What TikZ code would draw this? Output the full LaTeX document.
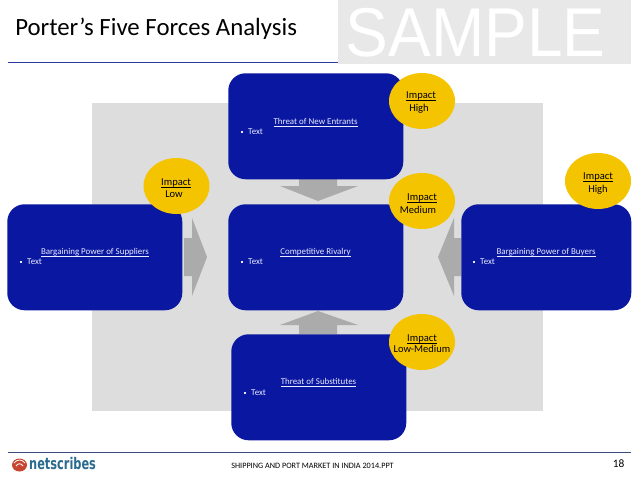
\documentclass[tikz,border=0pt]{standalone}
\usepackage{fontspec}
\setmainfont{Carlito}
\usetikzlibrary{shapes.geometric}
\definecolor{boxblue}{HTML}{0A17A0}
\definecolor{impact}{HTML}{F5C400}
\definecolor{panel}{HTML}{DDDDDD}
\definecolor{arrowgray}{HTML}{ABABAB}
\definecolor{ruleblue}{HTML}{2A3A9E}
\definecolor{footrule}{HTML}{3C4A80}
\definecolor{samplebg}{HTML}{E8E8E8}
\definecolor{logored}{HTML}{C8452F}
\definecolor{logoblue}{HTML}{2A6A8E}
\definecolor{boxtext}{HTML}{E8EAFF}
\newcommand{\ul}[1]{\underline{\smash{#1}}}
\newcommand{\sqb}{\rule[1.2pt]{1.6pt}{1.6pt}\hspace{3.6pt}}
\tikzset{
 x=0.75pt,y=-0.75pt,
 force/.style={fill=boxblue,rounded corners=13pt,minimum width=131.25pt,minimum height=79.5pt,inner sep=0pt,anchor=north west},
 impactnode/.style={ellipse,fill=impact,minimum width=49.5pt,minimum height=42pt,inner sep=0pt},
 impacttext/.style={inner sep=0pt,align=center,text=black,font=\fontsize{7.9}{9.7}\selectfont},
 heading/.style={text=boxtext,font=\fontsize{6.7}{8}\selectfont,inner sep=0pt},
 bullet/.style={text=boxtext,font=\fontsize{6.7}{8}\selectfont,inner sep=0pt,anchor=west},
 block/.style={fill=arrowgray,draw=none}
}
\begin{document}
\begin{tikzpicture}
\useasboundingbox (0,0) rectangle (638,479);
\fill[white] (0,0) rectangle (638,479);
% rules
\coordinate (ruleL) at (8,62.5);
\coordinate (ruleR) at (338,62.5);
\draw[ruleblue,line width=0.75pt] (ruleL) -- (ruleR);
\node[anchor=west,inner sep=0pt,font=\fontsize{18.6}{20}\selectfont,text=black] (title) at (15,29) {Porter’s Five Forces Analysis};
% sample
\fill[samplebg] (338,0) rectangle (631,64);
\node[inner sep=0pt,font=\fontsize{48}{48}\fontspec{Liberation Sans},text=white,yscale=1.08,transform shape] (sample) at (475.5,33) {SAMPLE};
% panel
\fill[panel] (92,103) rectangle (543,411);
% arrows
\fill[block] (299,179) -- (337,179) -- (337,186) -- (358,186) -- (318,201) -- (280,186) -- (299,186) -- cycle;
\fill[block] (299,334) -- (337,334) -- (337,325) -- (358,325) -- (318,311) -- (280,325) -- (299,325) -- cycle;
\fill[block] (184,238) -- (192,238) -- (192,218) -- (207,257) -- (192,296) -- (192,276) -- (184,276) -- cycle;
\fill[block] (461,276) -- (454,276) -- (454,296) -- (438,257) -- (454,218) -- (454,238) -- (461,238) -- cycle;
% boxes
\node[force] (top) at (228,73) {};
\node[force] (centre) at (228,204) {};
\node[force] (left) at (7,204) {};
\node[force,minimum width=127.5pt] (right) at (461,204) {};
\node[force] (bottom) at (231,334) {};
% box text
\node[heading] (h1) at (315.5,125.5) {\ul{Threat of New Entrants}};
\node[bullet] (b1) at (241,132) {\sqb Text};
\node[heading] (h2) at (315.5,256) {\ul{Competitive Rivalry}};
\node[bullet] (b2) at (241,262) {\sqb Text};
\node[heading] (h3) at (95,256) {\ul{Bargaining Power of Suppliers}};
\node[bullet] (b3) at (20,262) {\sqb Text};
\node[heading] (h4) at (546,256) {\ul{Bargaining Power of Buyers}};
\node[bullet] (b4) at (473,262) {\sqb Text};
\node[heading] (h5) at (318.5,386) {\ul{Threat of Substitutes}};
\node[bullet] (b5) at (244,393) {\sqb Text};
% impacts
\node[impactnode] (i1) at (422,101) {};
\node[impacttext] (t1) at (421,106) {\ul{Impact}\\\hspace{-3pt}High};
\node[impactnode] (i2) at (176.5,186) {};
\node[impacttext] (t2) at (176,191.5) {\ul{Impact}\\\hspace{-3pt}Low};
\node[impactnode] (i3) at (598,181) {};
\node[impacttext] (t3) at (598,186.5) {\ul{Impact}\\High};
\node[impactnode] (i4) at (422,201) {};
\node[impacttext] (t4) at (420,207) {\hspace{3pt}\ul{Impact}\\\hspace{-3pt}Medium};
\node[impactnode] (i5) at (422,342) {};
\node[impacttext,font=\fontsize{7.9}{8.8}\selectfont] (t5) at (422,347) {\ul{Impact}\\Low-Medium};
% footer
\coordinate (footL) at (8,452);
\coordinate (footR) at (631,452);
\draw[footrule,line width=0.75pt] (footL) -- (footR);
\node[inner sep=0pt,font=\fontsize{6.15}{8}\selectfont,text=black] (foot) at (312.5,466) {SHIPPING AND PORT MARKET IN INDIA 2014.PPT};
\node[inner sep=0pt,font=\fontsize{8.5}{10}\selectfont,text=black] (page) at (618.5,464) {18};
% logo
\fill[logored] (19.5,465) ellipse (7.5 and 6.5);
\draw[white,line width=0.6pt] (14,463) .. controls (17,459) and (22,459) .. (25,463);
\draw[white,line width=0.6pt] (16,466) .. controls (18,463) and (21,463) .. (23,466);
\node[anchor=west,inner sep=0pt,text=logoblue,font=\fontsize{12}{12}\fontspec{DejaVu Sans}\bfseries,xscale=0.71,transform shape] (logo) at (29,464) {netscribes};
\end{tikzpicture}
\end{document}
